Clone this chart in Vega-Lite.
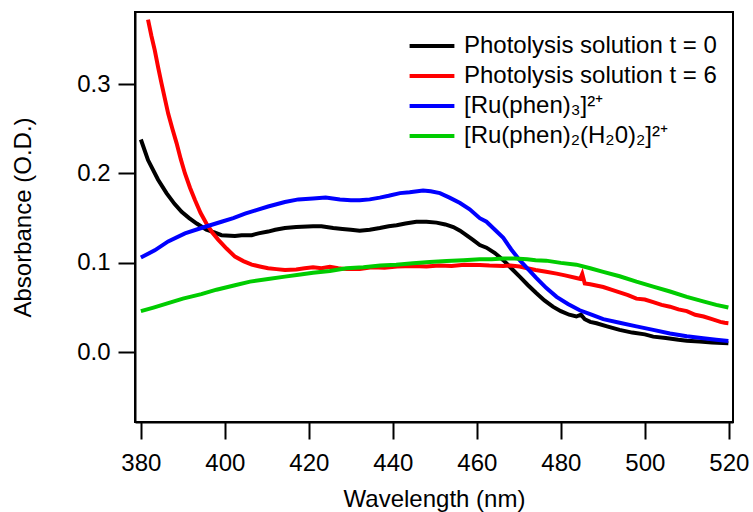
{
  "$schema": "https://vega.github.io/schema/vega-lite/v6.json",
  "width": 598,
  "height": 410,
  "autosize": {"type": "none"},
  "padding": {"left": 135, "top": 12, "right": 20, "bottom": 90},
  "config": {
    "font": "Liberation Sans",
    "view": {"stroke": "black", "strokeWidth": 2},
    "axis": {
      "grid": false,
      "domainColor": "black",
      "domainWidth": 2,
      "tickColor": "black",
      "tickWidth": 2,
      "tickSize": 17,
      "labelFontSize": 24,
      "labelColor": "black",
      "titleFontSize": 24,
      "titleFontWeight": "normal",
      "titleColor": "black"
    },
    "legend": {
      "labelFontSize": 24,
      "labelColor": "black",
      "labelLimit": 400
    }
  },
  "datasets": {
    "spectra": [
      {"s": "Photolysis solution t = 0", "w": 380, "a": 0.238},
      {"s": "Photolysis solution t = 0", "w": 381.7, "a": 0.215},
      {"s": "Photolysis solution t = 0", "w": 384.1, "a": 0.193},
      {"s": "Photolysis solution t = 0", "w": 386.1, "a": 0.178},
      {"s": "Photolysis solution t = 0", "w": 388, "a": 0.166},
      {"s": "Photolysis solution t = 0", "w": 389.7, "a": 0.157},
      {"s": "Photolysis solution t = 0", "w": 391.5, "a": 0.15},
      {"s": "Photolysis solution t = 0", "w": 393.3, "a": 0.144},
      {"s": "Photolysis solution t = 0", "w": 395.6, "a": 0.137},
      {"s": "Photolysis solution t = 0", "w": 397.5, "a": 0.134},
      {"s": "Photolysis solution t = 0", "w": 399.2, "a": 0.131},
      {"s": "Photolysis solution t = 0", "w": 402.4, "a": 0.13},
      {"s": "Photolysis solution t = 0", "w": 404, "a": 0.131},
      {"s": "Photolysis solution t = 0", "w": 406.4, "a": 0.131},
      {"s": "Photolysis solution t = 0", "w": 408, "a": 0.133},
      {"s": "Photolysis solution t = 0", "w": 410.3, "a": 0.135},
      {"s": "Photolysis solution t = 0", "w": 412, "a": 0.137},
      {"s": "Photolysis solution t = 0", "w": 414.3, "a": 0.139},
      {"s": "Photolysis solution t = 0", "w": 417, "a": 0.14},
      {"s": "Photolysis solution t = 0", "w": 421, "a": 0.141},
      {"s": "Photolysis solution t = 0", "w": 423, "a": 0.141},
      {"s": "Photolysis solution t = 0", "w": 425.8, "a": 0.139},
      {"s": "Photolysis solution t = 0", "w": 428, "a": 0.138},
      {"s": "Photolysis solution t = 0", "w": 430, "a": 0.137},
      {"s": "Photolysis solution t = 0", "w": 432.1, "a": 0.136},
      {"s": "Photolysis solution t = 0", "w": 434.5, "a": 0.137},
      {"s": "Photolysis solution t = 0", "w": 436.9, "a": 0.139},
      {"s": "Photolysis solution t = 0", "w": 439, "a": 0.141},
      {"s": "Photolysis solution t = 0", "w": 440.9, "a": 0.142},
      {"s": "Photolysis solution t = 0", "w": 443, "a": 0.144},
      {"s": "Photolysis solution t = 0", "w": 445.6, "a": 0.146},
      {"s": "Photolysis solution t = 0", "w": 448, "a": 0.146},
      {"s": "Photolysis solution t = 0", "w": 450.4, "a": 0.145},
      {"s": "Photolysis solution t = 0", "w": 452.5, "a": 0.143},
      {"s": "Photolysis solution t = 0", "w": 454.4, "a": 0.14},
      {"s": "Photolysis solution t = 0", "w": 456, "a": 0.136},
      {"s": "Photolysis solution t = 0", "w": 457.5, "a": 0.131},
      {"s": "Photolysis solution t = 0", "w": 459, "a": 0.126},
      {"s": "Photolysis solution t = 0", "w": 460.7, "a": 0.12},
      {"s": "Photolysis solution t = 0", "w": 462.3, "a": 0.117},
      {"s": "Photolysis solution t = 0", "w": 464.3, "a": 0.111},
      {"s": "Photolysis solution t = 0", "w": 466.3, "a": 0.103},
      {"s": "Photolysis solution t = 0", "w": 468.2, "a": 0.094},
      {"s": "Photolysis solution t = 0", "w": 470.2, "a": 0.0846},
      {"s": "Photolysis solution t = 0", "w": 472.2, "a": 0.075},
      {"s": "Photolysis solution t = 0", "w": 474.2, "a": 0.066},
      {"s": "Photolysis solution t = 0", "w": 476.1, "a": 0.058},
      {"s": "Photolysis solution t = 0", "w": 478.1, "a": 0.051},
      {"s": "Photolysis solution t = 0", "w": 480, "a": 0.046},
      {"s": "Photolysis solution t = 0", "w": 482, "a": 0.042},
      {"s": "Photolysis solution t = 0", "w": 483.7, "a": 0.04},
      {"s": "Photolysis solution t = 0", "w": 484.8, "a": 0.042},
      {"s": "Photolysis solution t = 0", "w": 485.7, "a": 0.037},
      {"s": "Photolysis solution t = 0", "w": 487, "a": 0.034},
      {"s": "Photolysis solution t = 0", "w": 488.5, "a": 0.0324},
      {"s": "Photolysis solution t = 0", "w": 491, "a": 0.029},
      {"s": "Photolysis solution t = 0", "w": 494, "a": 0.025},
      {"s": "Photolysis solution t = 0", "w": 497, "a": 0.022},
      {"s": "Photolysis solution t = 0", "w": 500, "a": 0.02},
      {"s": "Photolysis solution t = 0", "w": 502, "a": 0.0175},
      {"s": "Photolysis solution t = 0", "w": 505, "a": 0.016},
      {"s": "Photolysis solution t = 0", "w": 508, "a": 0.014},
      {"s": "Photolysis solution t = 0", "w": 510, "a": 0.013},
      {"s": "Photolysis solution t = 0", "w": 513, "a": 0.012},
      {"s": "Photolysis solution t = 0", "w": 516, "a": 0.011},
      {"s": "Photolysis solution t = 0", "w": 519.9, "a": 0.01},

      {"s": "Photolysis solution t = 6", "w": 381.7, "a": 0.372},
      {"s": "Photolysis solution t = 6", "w": 382.5, "a": 0.354},
      {"s": "Photolysis solution t = 6", "w": 383.3, "a": 0.338},
      {"s": "Photolysis solution t = 6", "w": 384.1, "a": 0.319},
      {"s": "Photolysis solution t = 6", "w": 384.9, "a": 0.301},
      {"s": "Photolysis solution t = 6", "w": 385.7, "a": 0.284},
      {"s": "Photolysis solution t = 6", "w": 386.5, "a": 0.267},
      {"s": "Photolysis solution t = 6", "w": 387.5, "a": 0.25},
      {"s": "Photolysis solution t = 6", "w": 388.5, "a": 0.234},
      {"s": "Photolysis solution t = 6", "w": 389.5, "a": 0.216},
      {"s": "Photolysis solution t = 6", "w": 390.5, "a": 0.2},
      {"s": "Photolysis solution t = 6", "w": 391.7, "a": 0.184},
      {"s": "Photolysis solution t = 6", "w": 392.9, "a": 0.17},
      {"s": "Photolysis solution t = 6", "w": 394.2, "a": 0.156},
      {"s": "Photolysis solution t = 6", "w": 395.6, "a": 0.144},
      {"s": "Photolysis solution t = 6", "w": 397, "a": 0.134},
      {"s": "Photolysis solution t = 6", "w": 398.4, "a": 0.126},
      {"s": "Photolysis solution t = 6", "w": 400.4, "a": 0.116},
      {"s": "Photolysis solution t = 6", "w": 402.4, "a": 0.107},
      {"s": "Photolysis solution t = 6", "w": 404.4, "a": 0.102},
      {"s": "Photolysis solution t = 6", "w": 406.4, "a": 0.098},
      {"s": "Photolysis solution t = 6", "w": 408.3, "a": 0.096},
      {"s": "Photolysis solution t = 6", "w": 410.3, "a": 0.094},
      {"s": "Photolysis solution t = 6", "w": 412.3, "a": 0.093},
      {"s": "Photolysis solution t = 6", "w": 414.3, "a": 0.092},
      {"s": "Photolysis solution t = 6", "w": 417, "a": 0.0925},
      {"s": "Photolysis solution t = 6", "w": 419, "a": 0.094},
      {"s": "Photolysis solution t = 6", "w": 421, "a": 0.095},
      {"s": "Photolysis solution t = 6", "w": 423, "a": 0.094},
      {"s": "Photolysis solution t = 6", "w": 425, "a": 0.0955},
      {"s": "Photolysis solution t = 6", "w": 427, "a": 0.094},
      {"s": "Photolysis solution t = 6", "w": 429, "a": 0.093},
      {"s": "Photolysis solution t = 6", "w": 432.1, "a": 0.093},
      {"s": "Photolysis solution t = 6", "w": 435, "a": 0.095},
      {"s": "Photolysis solution t = 6", "w": 438, "a": 0.0945},
      {"s": "Photolysis solution t = 6", "w": 441, "a": 0.096},
      {"s": "Photolysis solution t = 6", "w": 444.8, "a": 0.0965},
      {"s": "Photolysis solution t = 6", "w": 448, "a": 0.096},
      {"s": "Photolysis solution t = 6", "w": 451, "a": 0.097},
      {"s": "Photolysis solution t = 6", "w": 454, "a": 0.0965},
      {"s": "Photolysis solution t = 6", "w": 457, "a": 0.098},
      {"s": "Photolysis solution t = 6", "w": 460.7, "a": 0.0977},
      {"s": "Photolysis solution t = 6", "w": 463, "a": 0.097},
      {"s": "Photolysis solution t = 6", "w": 466.3, "a": 0.0965},
      {"s": "Photolysis solution t = 6", "w": 468, "a": 0.097},
      {"s": "Photolysis solution t = 6", "w": 470.2, "a": 0.096},
      {"s": "Photolysis solution t = 6", "w": 472, "a": 0.094},
      {"s": "Photolysis solution t = 6", "w": 474, "a": 0.092},
      {"s": "Photolysis solution t = 6", "w": 476.5, "a": 0.09},
      {"s": "Photolysis solution t = 6", "w": 479, "a": 0.088},
      {"s": "Photolysis solution t = 6", "w": 481, "a": 0.086},
      {"s": "Photolysis solution t = 6", "w": 483.7, "a": 0.083},
      {"s": "Photolysis solution t = 6", "w": 484.6, "a": 0.082},
      {"s": "Photolysis solution t = 6", "w": 485.1, "a": 0.0876},
      {"s": "Photolysis solution t = 6", "w": 485.7, "a": 0.077},
      {"s": "Photolysis solution t = 6", "w": 487, "a": 0.076},
      {"s": "Photolysis solution t = 6", "w": 490.1, "a": 0.073},
      {"s": "Photolysis solution t = 6", "w": 492, "a": 0.07},
      {"s": "Photolysis solution t = 6", "w": 494, "a": 0.067},
      {"s": "Photolysis solution t = 6", "w": 496, "a": 0.064},
      {"s": "Photolysis solution t = 6", "w": 498, "a": 0.06},
      {"s": "Photolysis solution t = 6", "w": 500, "a": 0.059},
      {"s": "Photolysis solution t = 6", "w": 502, "a": 0.056},
      {"s": "Photolysis solution t = 6", "w": 504, "a": 0.053},
      {"s": "Photolysis solution t = 6", "w": 506, "a": 0.051},
      {"s": "Photolysis solution t = 6", "w": 508, "a": 0.048},
      {"s": "Photolysis solution t = 6", "w": 510, "a": 0.046},
      {"s": "Photolysis solution t = 6", "w": 512, "a": 0.042},
      {"s": "Photolysis solution t = 6", "w": 514, "a": 0.04},
      {"s": "Photolysis solution t = 6", "w": 516, "a": 0.037},
      {"s": "Photolysis solution t = 6", "w": 518, "a": 0.034},
      {"s": "Photolysis solution t = 6", "w": 519, "a": 0.033},
      {"s": "Photolysis solution t = 6", "w": 519.9, "a": 0.0325},

      {"s": "[Ru(phen)₃]²⁺", "w": 380, "a": 0.106},
      {"s": "[Ru(phen)₃]²⁺", "w": 383.3, "a": 0.114},
      {"s": "[Ru(phen)₃]²⁺", "w": 386.5, "a": 0.124},
      {"s": "[Ru(phen)₃]²⁺", "w": 390.5, "a": 0.133},
      {"s": "[Ru(phen)₃]²⁺", "w": 394.4, "a": 0.139},
      {"s": "[Ru(phen)₃]²⁺", "w": 399.2, "a": 0.146},
      {"s": "[Ru(phen)₃]²⁺", "w": 402, "a": 0.15},
      {"s": "[Ru(phen)₃]²⁺", "w": 404.8, "a": 0.155},
      {"s": "[Ru(phen)₃]²⁺", "w": 407.5, "a": 0.159},
      {"s": "[Ru(phen)₃]²⁺", "w": 410.3, "a": 0.163},
      {"s": "[Ru(phen)₃]²⁺", "w": 414.3, "a": 0.168},
      {"s": "[Ru(phen)₃]²⁺", "w": 417.5, "a": 0.171},
      {"s": "[Ru(phen)₃]²⁺", "w": 421, "a": 0.172},
      {"s": "[Ru(phen)₃]²⁺", "w": 424, "a": 0.173},
      {"s": "[Ru(phen)₃]²⁺", "w": 427.4, "a": 0.171},
      {"s": "[Ru(phen)₃]²⁺", "w": 430, "a": 0.17},
      {"s": "[Ru(phen)₃]²⁺", "w": 432.1, "a": 0.17},
      {"s": "[Ru(phen)₃]²⁺", "w": 434.5, "a": 0.171},
      {"s": "[Ru(phen)₃]²⁺", "w": 436.9, "a": 0.173},
      {"s": "[Ru(phen)₃]²⁺", "w": 439, "a": 0.175},
      {"s": "[Ru(phen)₃]²⁺", "w": 441.7, "a": 0.178},
      {"s": "[Ru(phen)₃]²⁺", "w": 444, "a": 0.179},
      {"s": "[Ru(phen)₃]²⁺", "w": 447.2, "a": 0.181},
      {"s": "[Ru(phen)₃]²⁺", "w": 449, "a": 0.18},
      {"s": "[Ru(phen)₃]²⁺", "w": 451.2, "a": 0.178},
      {"s": "[Ru(phen)₃]²⁺", "w": 453.5, "a": 0.173},
      {"s": "[Ru(phen)₃]²⁺", "w": 456, "a": 0.167},
      {"s": "[Ru(phen)₃]²⁺", "w": 458.3, "a": 0.16},
      {"s": "[Ru(phen)₃]²⁺", "w": 460.7, "a": 0.15},
      {"s": "[Ru(phen)₃]²⁺", "w": 462.3, "a": 0.146},
      {"s": "[Ru(phen)₃]²⁺", "w": 464.3, "a": 0.137},
      {"s": "[Ru(phen)₃]²⁺", "w": 466.3, "a": 0.128},
      {"s": "[Ru(phen)₃]²⁺", "w": 468.2, "a": 0.115},
      {"s": "[Ru(phen)₃]²⁺", "w": 470.2, "a": 0.103},
      {"s": "[Ru(phen)₃]²⁺", "w": 472.2, "a": 0.093},
      {"s": "[Ru(phen)₃]²⁺", "w": 474.2, "a": 0.083},
      {"s": "[Ru(phen)₃]²⁺", "w": 476.5, "a": 0.072},
      {"s": "[Ru(phen)₃]²⁺", "w": 479, "a": 0.062},
      {"s": "[Ru(phen)₃]²⁺", "w": 481.7, "a": 0.054},
      {"s": "[Ru(phen)₃]²⁺", "w": 484.5, "a": 0.047},
      {"s": "[Ru(phen)₃]²⁺", "w": 487.3, "a": 0.042},
      {"s": "[Ru(phen)₃]²⁺", "w": 490.1, "a": 0.037},
      {"s": "[Ru(phen)₃]²⁺", "w": 494, "a": 0.033},
      {"s": "[Ru(phen)₃]²⁺", "w": 498, "a": 0.029},
      {"s": "[Ru(phen)₃]²⁺", "w": 502, "a": 0.025},
      {"s": "[Ru(phen)₃]²⁺", "w": 506, "a": 0.021},
      {"s": "[Ru(phen)₃]²⁺", "w": 510, "a": 0.018},
      {"s": "[Ru(phen)₃]²⁺", "w": 513.9, "a": 0.0157},
      {"s": "[Ru(phen)₃]²⁺", "w": 517, "a": 0.014},
      {"s": "[Ru(phen)₃]²⁺", "w": 519.9, "a": 0.0126},

      {"s": "[Ru(phen)₂(H₂0)₂]²⁺", "w": 380, "a": 0.046},
      {"s": "[Ru(phen)₂(H₂0)₂]²⁺", "w": 383, "a": 0.05},
      {"s": "[Ru(phen)₂(H₂0)₂]²⁺", "w": 386.5, "a": 0.055},
      {"s": "[Ru(phen)₂(H₂0)₂]²⁺", "w": 390, "a": 0.06},
      {"s": "[Ru(phen)₂(H₂0)₂]²⁺", "w": 394.4, "a": 0.065},
      {"s": "[Ru(phen)₂(H₂0)₂]²⁺", "w": 398, "a": 0.07},
      {"s": "[Ru(phen)₂(H₂0)₂]²⁺", "w": 402.4, "a": 0.075},
      {"s": "[Ru(phen)₂(H₂0)₂]²⁺", "w": 406, "a": 0.079},
      {"s": "[Ru(phen)₂(H₂0)₂]²⁺", "w": 410.3, "a": 0.082},
      {"s": "[Ru(phen)₂(H₂0)₂]²⁺", "w": 414.3, "a": 0.0846},
      {"s": "[Ru(phen)₂(H₂0)₂]²⁺", "w": 418, "a": 0.087},
      {"s": "[Ru(phen)₂(H₂0)₂]²⁺", "w": 421, "a": 0.089},
      {"s": "[Ru(phen)₂(H₂0)₂]²⁺", "w": 425, "a": 0.091},
      {"s": "[Ru(phen)₂(H₂0)₂]²⁺", "w": 428.9, "a": 0.094},
      {"s": "[Ru(phen)₂(H₂0)₂]²⁺", "w": 433, "a": 0.095},
      {"s": "[Ru(phen)₂(H₂0)₂]²⁺", "w": 437, "a": 0.097},
      {"s": "[Ru(phen)₂(H₂0)₂]²⁺", "w": 440.8, "a": 0.098},
      {"s": "[Ru(phen)₂(H₂0)₂]²⁺", "w": 444.8, "a": 0.0996},
      {"s": "[Ru(phen)₂(H₂0)₂]²⁺", "w": 448.8, "a": 0.101},
      {"s": "[Ru(phen)₂(H₂0)₂]²⁺", "w": 452.8, "a": 0.102},
      {"s": "[Ru(phen)₂(H₂0)₂]²⁺", "w": 456.8, "a": 0.103},
      {"s": "[Ru(phen)₂(H₂0)₂]²⁺", "w": 460.7, "a": 0.104},
      {"s": "[Ru(phen)₂(H₂0)₂]²⁺", "w": 463.5, "a": 0.104},
      {"s": "[Ru(phen)₂(H₂0)₂]²⁺", "w": 466.3, "a": 0.105},
      {"s": "[Ru(phen)₂(H₂0)₂]²⁺", "w": 469, "a": 0.105},
      {"s": "[Ru(phen)₂(H₂0)₂]²⁺", "w": 472, "a": 0.104},
      {"s": "[Ru(phen)₂(H₂0)₂]²⁺", "w": 474, "a": 0.103},
      {"s": "[Ru(phen)₂(H₂0)₂]²⁺", "w": 476.5, "a": 0.1025},
      {"s": "[Ru(phen)₂(H₂0)₂]²⁺", "w": 480, "a": 0.1},
      {"s": "[Ru(phen)₂(H₂0)₂]²⁺", "w": 483.7, "a": 0.098},
      {"s": "[Ru(phen)₂(H₂0)₂]²⁺", "w": 487, "a": 0.094},
      {"s": "[Ru(phen)₂(H₂0)₂]²⁺", "w": 490.1, "a": 0.09},
      {"s": "[Ru(phen)₂(H₂0)₂]²⁺", "w": 494, "a": 0.085},
      {"s": "[Ru(phen)₂(H₂0)₂]²⁺", "w": 498, "a": 0.079},
      {"s": "[Ru(phen)₂(H₂0)₂]²⁺", "w": 502, "a": 0.0735},
      {"s": "[Ru(phen)₂(H₂0)₂]²⁺", "w": 506, "a": 0.068},
      {"s": "[Ru(phen)₂(H₂0)₂]²⁺", "w": 510, "a": 0.062},
      {"s": "[Ru(phen)₂(H₂0)₂]²⁺", "w": 513.9, "a": 0.057},
      {"s": "[Ru(phen)₂(H₂0)₂]²⁺", "w": 517, "a": 0.053},
      {"s": "[Ru(phen)₂(H₂0)₂]²⁺", "w": 519.9, "a": 0.05}
    ]
  },
  "data": {"name": "spectra"},
  "mark": {"type": "line", "strokeWidth": 4, "clip": true},
  "encoding": {
    "x": {
      "field": "w",
      "type": "quantitative",
      "scale": {"domain": [378.6, 521], "nice": false, "zero": false},
      "axis": {
        "title": "Wavelength (nm)",
        "values": [380, 400, 420, 440, 460, 480, 500, 520],
        "format": "d",
        "labelPadding": 12,
        "titlePadding": 12
      }
    },
    "y": {
      "field": "a",
      "type": "quantitative",
      "scale": {"domain": [-0.078, 0.3806], "nice": false, "zero": false},
      "axis": {
        "title": "Absorbance (O.D.)",
        "values": [0, 0.1, 0.2, 0.3],
        "format": ".1f",
        "labelPadding": 8,
        "titlePadding": 41
      }
    },
    "color": {
      "field": "s",
      "type": "nominal",
      "scale": {
        "domain": [
          "Photolysis solution t = 0",
          "Photolysis solution t = 6",
          "[Ru(phen)₃]²⁺",
          "[Ru(phen)₂(H₂0)₂]²⁺"
        ],
        "range": ["#000000", "#ff0000", "#0000ff", "#00cc00"]
      },
      "legend": {
        "title": null,
        "orient": "none",
        "legendX": 281,
        "legendY": 18,
        "padding": 0,
        "symbolType": "M-1.6,0H1.6",
        "symbolSize": 784,
        "symbolStrokeWidth": 4,
        "symbolFillColor": "transparent",
        "labelOffset": 16,
        "rowPadding": 2
      }
    }
  }
}
